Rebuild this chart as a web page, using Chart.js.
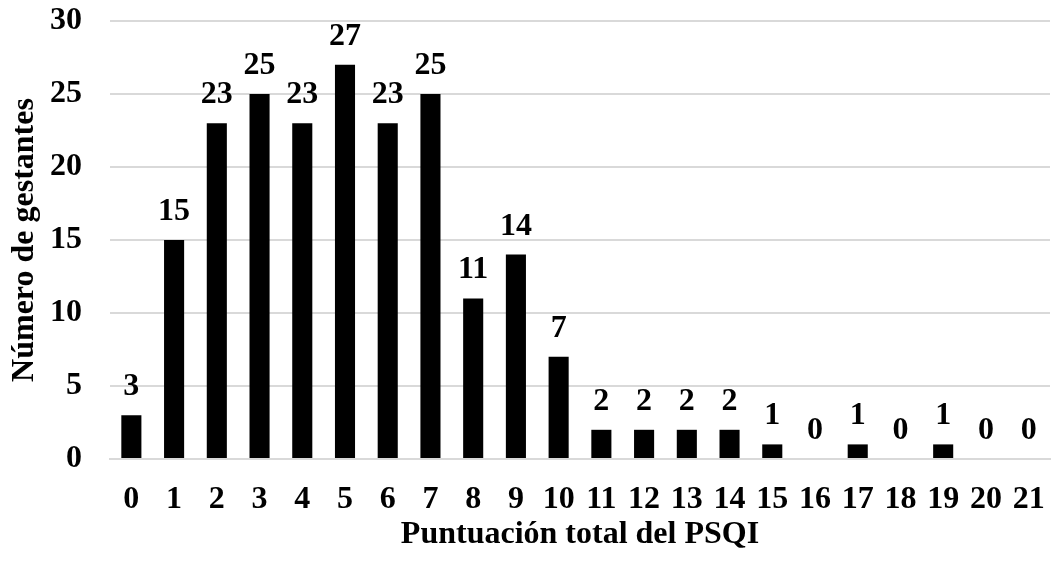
<!DOCTYPE html>
<html>
<head>
<meta charset="utf-8">
<script src="https://cdn.jsdelivr.net/npm/chart.js@4"></script>
<style>
  html, body { margin: 0; padding: 0; background: #fff; }
  #wrap { width: 1052px; height: 561px; }
</style>
</head>
<body>
<div id="wrap"><canvas id="psqiChart"></canvas></div>
<script>
const puntuaciones = ['0','1','2','3','4','5','6','7','8','9','10','11','12','13','14','15','16','17','18','19','20','21'];
const gestantes = [3, 15, 23, 25, 23, 27, 23, 25, 11, 14, 7, 2, 2, 2, 2, 1, 0, 1, 0, 1, 0, 0];
const yTicks = [0, 5, 10, 15, 20, 25, 30];

const FONT = "'Liberation Serif', 'Times New Roman', serif";

// values above each bar
const barLabels = {
  id: 'barLabels',
  afterDatasetsDraw(chart) {
    const ctx = chart.ctx;
    const meta = chart.getDatasetMeta(0);
    ctx.save();
    ctx.font = "bold 32px " + FONT;
    ctx.fillStyle = '#000';
    ctx.textAlign = 'center';
    ctx.textBaseline = 'alphabetic';
    meta.data.forEach((bar, i) => {
      ctx.fillText(String(gestantes[i]), bar.x, bar.y - 20);
    });
    ctx.restore();
  }
};

new Chart(document.getElementById('psqiChart'), {
  type: 'bar',
  data: {
    labels: puntuaciones,
    datasets: [{
      data: gestantes,
      backgroundColor: '#000',
      barPercentage: 0.47,
      categoryPercentage: 1.0
    }]
  },
  options: {
    responsive: true,
    maintainAspectRatio: false,
    animation: false,
    layout: { padding: { top: 21, right: 2, left: 4, bottom: 2 } },
    plugins: {
      legend: { display: false },
      tooltip: { enabled: false }
    },
    scales: {
      x: {
        afterFit(axis) {
          axis.height = 100;
          axis.paddingLeft = 0;
          axis.paddingRight = 0;
        },
        grid: { display: false, drawTicks: false },
        border: { display: true, color: '#d9d9d9', width: 2 },
        ticks: {
          color: '#000',
          padding: 22,
          maxRotation: 0,
          autoSkip: false,
          font: { family: FONT, size: 32, weight: 'bold' }
        },
        title: {
          display: true,
          text: 'Puntuación total del PSQI',
          color: '#000',
          padding: { top: 0, bottom: 5 },
          font: { family: FONT, size: 32, weight: 'bold' }
        }
      },
      y: {
        min: 0,
        max: 30,
        afterBuildTicks(axis) {
          axis.ticks = yTicks.map(v => ({ value: v }));
        },
        afterFit(axis) {
          axis.width = 106;
          axis.paddingTop = 0;
          axis.paddingBottom = 0;
        },
        grid: { color: '#d9d9d9', lineWidth: 2, drawTicks: false },
        border: { display: false },
        ticks: {
          color: '#000',
          padding: 28,
          font: { family: FONT, size: 32, weight: 'bold' }
        },
        title: {
          display: true,
          text: 'Número de gestantes',
          color: '#000',
          padding: { top: 2, bottom: 0 },
          font: { family: FONT, size: 32, weight: 'bold' }
        }
      }
    }
  },
  plugins: [barLabels]
});
</script>
</body>
</html>
